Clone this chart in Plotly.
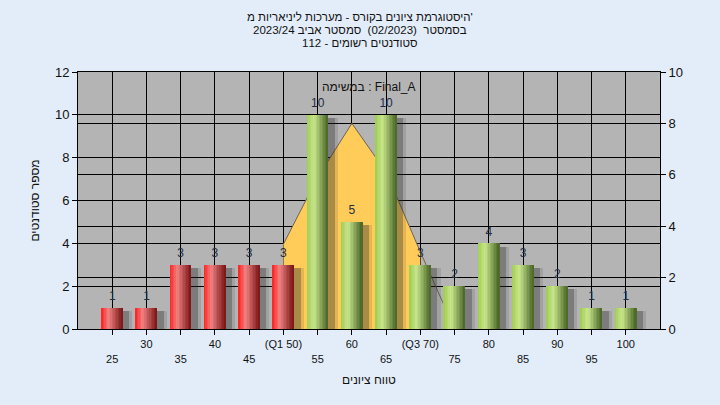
import plotly.graph_objects as go

# ---------------- data ----------------
grades = [25, 30, 35, 40, 45, 50, 55, 60, 65, 70, 75, 80, 85, 90, 95, 100]
counts = [1, 1, 3, 3, 3, 3, 10, 5, 10, 3, 2, 4, 3, 2, 1, 1]
bar_group = ["fail"] * 6 + ["pass"] * 10
tick_labels = ["25", "30", "35", "40", "45", "(Q1 50)", "55", "60", "65", "(Q3 70)",
               "75", "80", "85", "90", "95", "100"]

curve_grades = [50, 55, 60, 65, 70, 75]
curve_values = [3.3, 5.9, 8.0, 6.1, 3.0, 0.0]
q1, q3 = 50, 70

title_lines = ["היסטוגרמת ציונים בקורס - מערכות ליניאריות מ'",
               "בסמסטר\u00a0\u00a0(02/2023)\u00a0\u00a0סמסטר אביב 2023/24",
               "סטודנטים רשומים - 112"]
task_label = "במשימה : Final_A"
x_title = "טווח ציונים"
y_title = "מספר סטודנטים"

# ---------------- style helpers ----------------
FONT = "Liberation Sans"
stops = {
    "fail": [(0.0, (255, 30, 30)), (0.35, (240, 130, 130)), (1.0, (120, 20, 20))],
    "pass": [(0.0, (160, 204, 80)), (0.35, (200, 230, 140)), (1.0, (72, 100, 38))],
}


def grad(group, t):
    s = stops[group]
    for (t0, c0), (t1, c1) in zip(s[:-1], s[1:]):
        if t0 <= t <= t1:
            f = (t - t0) / (t1 - t0)
            c = [round(a + (b - a) * f) for a, b in zip(c0, c1)]
            return "rgb(%d,%d,%d)" % tuple(c)
    return "rgb(%d,%d,%d)" % s[-1][1]


W = 3.1  # bar width in grade units
N = 14   # gradient slices

fig = go.Figure()

# area curve (behind the bars) on primary (right) axis
in_fill = [(g, v) for g, v in zip(curve_grades, curve_values) if q1 <= g <= q3]
fig.add_trace(go.Scatter(
    x=[g for g, _ in in_fill], y=[v for _, v in in_fill],
    mode="lines", fill="tozeroy", fillcolor="rgb(255,204,90)",
    line=dict(width=0), hoverinfo="skip", yaxis="y", showlegend=False))
fig.add_trace(go.Scatter(
    x=curve_grades, y=curve_values, mode="lines",
    line=dict(color="rgb(110,100,80)", width=1), yaxis="y", showlegend=False))

# shadows
shadow_y = [c - 0.15 for c in counts]
fig.add_trace(go.Bar(x=grades, y=shadow_y, width=W + 1.1, offset=-W / 2 + 0.3,
                     marker=dict(color="rgba(40,40,40,0.13)", line=dict(width=0)),
                     yaxis="y2", showlegend=False, hoverinfo="skip"))
fig.add_trace(go.Bar(x=grades, y=shadow_y, width=W + 0.65, offset=-W / 2 + 0.3,
                     marker=dict(color="rgba(40,40,40,0.3)", line=dict(width=0)),
                     yaxis="y2", showlegend=False, hoverinfo="skip"))

# base bar (hides slice seams)
fig.add_trace(go.Bar(x=grades, y=counts, width=W, offset=-W / 2,
                     marker=dict(color=[grad(g, 0.6) for g in bar_group], line=dict(width=0)),
                     yaxis="y2", showlegend=False, hoverinfo="skip"))
# gradient slices
for i in range(N):
    t = (i + 0.5) / N
    fig.add_trace(go.Bar(
        x=grades, y=counts, width=W / N * 1.08, offset=-W / 2 + i * W / N,
        marker=dict(color=[grad(g, t) for g in bar_group], line=dict(width=0)),
        yaxis="y2", showlegend=False, hoverinfo="skip"))

# value labels
label_y = [c + 0.22 for c in counts]
fig.add_trace(go.Scatter(
    x=grades, y=label_y, mode="text", text=[str(c) for c in counts],
    textposition="top center", textfont=dict(family=FONT, size=12, color="#1e2c44"),
    yaxis="y2", showlegend=False, hoverinfo="skip", cliponaxis=False))

ticktext = [lbl if i % 2 == 1 else "<br>" + lbl for i, lbl in enumerate(tick_labels)]

annotations = []
for k, line in enumerate(title_lines):
    annotations.append(dict(text=line, xref="paper", yref="paper",
                            x=(360 - 78) / 582, y=1, yshift=55 - 13 * k,
                            xanchor="center", yanchor="middle", showarrow=False,
                            font=dict(family=FONT, size=11.5, color="#111")))
annotations.append(dict(text=task_label, xref="paper", yref="paper", x=0.5, y=1.0,
                        xanchor="center", yanchor="top", yshift=-6, showarrow=False,
                        font=dict(family=FONT, size=12, color="#111")))

fig.update_layout(
    width=720, height=405,
    margin=dict(l=78, r=60, t=72, b=76),
    paper_bgcolor="rgb(227,237,249)",
    plot_bgcolor="rgb(180,180,180)",
    barmode="overlay",
    bargap=0,
    xaxis=dict(range=[20, 105], tickvals=grades, ticktext=ticktext,
               showgrid=True, gridcolor="black", gridwidth=1,
               showline=True, linecolor="black", linewidth=1, mirror=True,
               ticks="outside", ticklen=5, tickcolor="black",
               tickfont=dict(family=FONT, size=11, color="#111"),
               title=dict(text=x_title, font=dict(family=FONT, size=12, color="#111"), standoff=12),
               zeroline=False),
    yaxis=dict(range=[0, 10], dtick=2, side="right",
               showgrid=True, gridcolor="black", gridwidth=1,
               ticks="outside", ticklen=5, tickcolor="black",
               showline=True, linecolor="black",
               tickfont=dict(family=FONT, size=13, color="#111"), zeroline=False),
    yaxis2=dict(range=[0, 12], dtick=2, side="left", overlaying="y",
                showgrid=True, gridcolor="black", gridwidth=1,
                ticks="outside", ticklen=5, tickcolor="black",
                showline=True, linecolor="black",
                tickfont=dict(family=FONT, size=13, color="#111"), zeroline=False,
                title=dict(text=y_title, font=dict(family=FONT, size=12, color="#111"), standoff=12)),
    annotations=annotations,
)

fig.write_html("out.html", config={"displayModeBar": False},
               post_script="document.body.style.margin='0px';")
